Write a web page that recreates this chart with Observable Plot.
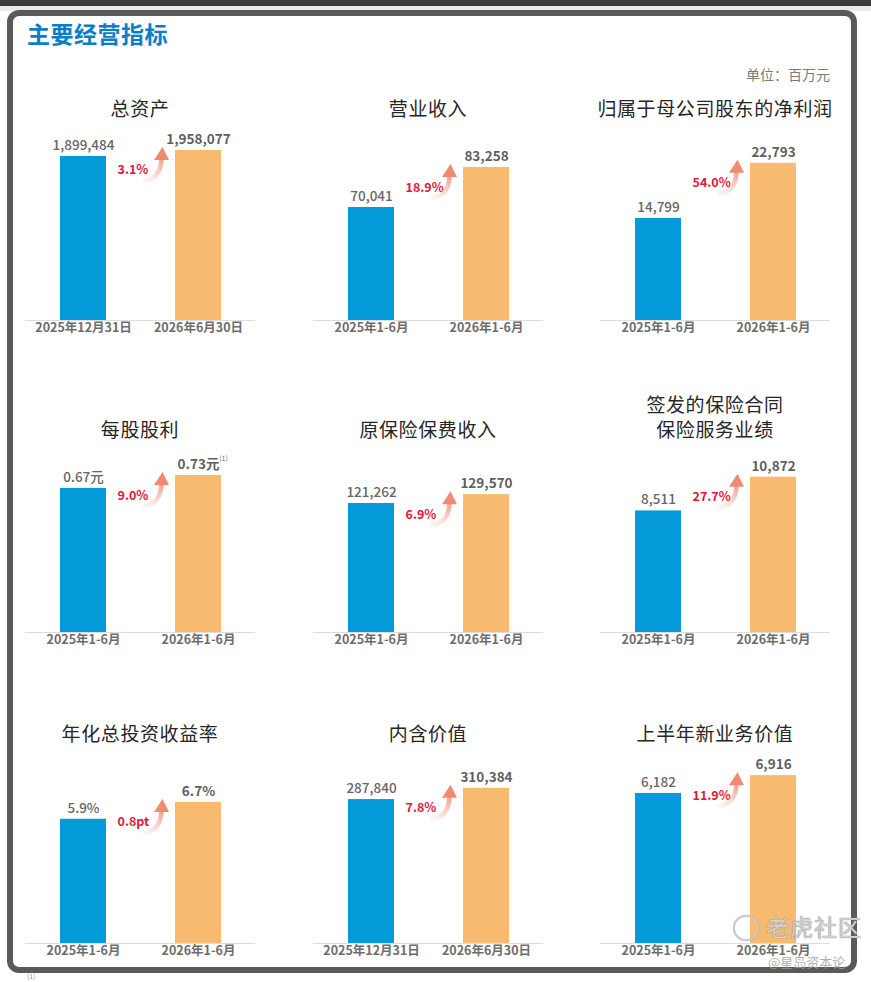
<!DOCTYPE html>
<html>
<head>
<meta charset="utf-8">
<script src="https://cdn.jsdelivr.net/npm/d3@7"></script>
<script src="https://cdn.jsdelivr.net/npm/@observablehq/plot@0.6"></script>
<style>
  html, body { margin: 0; padding: 0; background: #ffffff; }
  body { width: 871px; height: 982px; position: relative; overflow: hidden;
         font-family: "Noto Sans CJK SC", "Noto Sans", sans-serif; }
  .strip { position: absolute; left: 0; top: 0; width: 871px; height: 6px; background: #3a3a3a; }
  .strip2 { position: absolute; left: 0; top: 6px; width: 871px; height: 5px; background: #e9e9e9; }
  .frame { position: absolute; left: 7px; top: 10px; width: 850px; height: 963px; box-sizing: border-box;
           border: 6px solid #5a5a5a; border-radius: 12px; background: #fff; }
  .main-title { position: absolute; left: 27px; top: 16px; font-size: 23px; font-weight: 700; color: #0a7ec6; letter-spacing: 0.5px; }
  .unit { position: absolute; right: 41px; top: 64px; font-size: 14px; color: #7a7a7a; }
  .ptitle { position: absolute; width: 320px; text-align: center; font-size: 19px; line-height: 25px; color: #262626; letter-spacing: 0.6px; }
  .panel { position: absolute; }
  .wm1 { position: absolute; left: 766px; top: 913px; font-size: 23px; line-height: 26px; color: #d2d2d2; letter-spacing: 1px;
         text-shadow: 0 0 1px #888, 0 0 1px #888; }
  .wm2 { position: absolute; left: 768px; top: 954px; font-size: 13px; line-height: 15px; color: rgba(160,160,160,0.85); }
  .wmlogo { position: absolute; left: 733px; top: 915px; width: 22px; height: 22px; border: 2px solid #c8c8c8; border-radius: 50%;
            box-shadow: 0 0 1px #888; }
  .foot { position: absolute; left: 27px; top: 972px; font-size: 7px; line-height: 8px; color: #999; }
</style>
</head>
<body>
<div class="strip"></div>
<div class="strip2"></div>
<div class="frame"></div>
<div class="main-title">主要经营指标</div>
<div class="unit">单位：百万元</div>
<div id="charts"></div>
<div class="wmlogo"></div>
<div class="wm1">老虎社区</div>
<div class="wm2">@星岛资本论</div>
<div class="foot">(1)</div>
<script>
// ---------------- data ----------------
const titles = ["总资产", "营业收入", "归属于母公司股东的净利润",
                "每股股利", "原保险保费收入", "签发的保险合同\n保险服务业绩",
                "年化总投资收益率", "内含价值", "上半年新业务价值"];
const periodsDate = ["2025年12月31日", "2026年6月30日"];
const periodsHalf = ["2025年1-6月", "2026年1-6月"];
const periods = [periodsDate, periodsHalf, periodsHalf,
                 periodsHalf, periodsHalf, periodsHalf,
                 periodsHalf, periodsDate, periodsHalf];
const priorValues   = [1899484, 70041, 14799, 0.67, 121262, 8511, 5.9, 287840, 6182];
const currentValues = [1958077, 83258, 22793, 0.73, 129570, 10872, 6.7, 310384, 6916];
const priorLabels   = ["1,899,484", "70,041", "14,799", "0.67元", "121,262", "8,511", "5.9%", "287,840", "6,182"];
const currentLabels = ["1,958,077", "83,258", "22,793", "0.73元", "129,570", "10,872", "6.7%", "310,384", "6,916"];
const footnotes     = ["", "", "", "(1)", "", "", "", "", ""];
const changes       = ["3.1%", "18.9%", "54.0%", "9.0%", "6.9%", "27.7%", "0.8pt", "7.8%", "11.9%"];

// ---------------- styling / layout ----------------
const yDomains = [[300000, 2250000], [32700, 98800], [0, 29000],
                  [0, 0.93], [0, 188000], [0, 14000],
                  [0, 9.5], [0, 400000], [0, 8240]];
const BLUE = "#059ad9", ORANGE = "#f7ba6f", RED = "#e2173a";
const colLeft = [25, 313, 600];
const rowBase = [320, 632, 943];
const rowTitle = [107, 428, 732];
const PW = 230, MT = 30, MB = 24, IH = 200;

const root = document.getElementById("charts");

function arrowMark(i) {
  return (index, scales) => {
    const sx = scales.x, sy = scales.y;
    const bw = sx.bandwidth ? sx.bandwidth() : 46;
    const blueR = sx(periods[i][0]) + bw;
    const orangeL = sx(periods[i][1]);
    const gx = (blueR + orangeL) / 2;
    const oTop = sy(currentValues[i]);
    const tx = gx + 2, ty = oTop + 31;
    const bx = gx + 21, by = oTop + 9;
    const g = d3.create("svg:g");
    const id = "ag" + i;
    const grad = g.append("defs").append("linearGradient")
      .attr("id", id).attr("gradientUnits", "userSpaceOnUse")
      .attr("x1", tx).attr("y1", ty).attr("x2", bx).attr("y2", by);
    grad.append("stop").attr("offset", 0).attr("stop-color", "#fbe3dc").attr("stop-opacity", 0.3);
    grad.append("stop").attr("offset", 1).attr("stop-color", "#f3a08c");
    g.append("path")
      .attr("d", `M${tx},${ty} Q${bx - 1},${ty - 1} ${bx},${by}`)
      .attr("fill", "none").attr("stroke", `url(#${id})`).attr("stroke-width", 4.5);
    g.append("path")
      .attr("d", `M${bx - 7.5},${by + 1} L${bx + 7.5},${by + 1} L${bx + 1},${by - 12} Z`)
      .attr("fill", "#f08a72");
    return g.node();
  };
}

for (let i = 0; i < 9; i++) {
  const col = i % 3, row = Math.floor(i / 3);
  const lo = yDomains[i][0];
  const rows = [
    {period: periods[i][0], value: priorValues[i], label: priorLabels[i], series: "prior"},
    {period: periods[i][1], value: currentValues[i], label: currentLabels[i], series: "current", foot: footnotes[i]}
  ];
  const plot = Plot.plot({
    width: PW, height: MT + IH + MB,
    marginLeft: 0, marginRight: 0, marginTop: MT, marginBottom: MB,
    x: {domain: periods[i], paddingInner: 0.603, paddingOuter: 0.293, axis: null},
    y: {domain: yDomains[i], axis: null},
    color: {domain: ["prior", "current"], range: [BLUE, ORANGE]},
    style: {fontFamily: '"Noto Sans CJK SC", "Noto Sans", sans-serif', background: "transparent", overflow: "visible"},
    marks: [
      Plot.barY(rows, {x: "period", y1: lo, y2: "value", fill: "series"}),
      Plot.ruleY([lo], {stroke: "#dddddd", strokeWidth: 1}),
      Plot.text(rows.slice(0, 1), {x: "period", y: "value", text: "label", dy: -11, fontSize: 13.5, fontWeight: 500, fill: "#666"}),
      Plot.text(rows.slice(1), {x: "period", y: "value", text: "label", dy: -11, fontSize: 13.5, fontWeight: 700, fill: "#5f5f5f"}),
      Plot.text(rows.slice(1), {x: "period", y: "value", text: "foot", dx: 25, dy: -17, fontSize: 7, fill: "#777"}),
      Plot.text(rows, {x: "period", y: lo, text: "period", lineAnchor: "top", dy: 3, fontSize: 12.5, fontWeight: 600, fill: "#6d6d6d"}),
      Plot.text([{period: periods[i][1], value: currentValues[i], t: changes[i]}],
        {x: "period", y: "value", text: "t", dx: -81, dy: 20, textAnchor: "start", fontSize: 12.5, fontWeight: 700, fill: RED}),
      arrowMark(i)
    ]
  });
  const wrap = document.createElement("div");
  wrap.className = "panel";
  wrap.style.left = colLeft[col] + "px";
  wrap.style.top = (rowBase[row] - MT - IH) + "px";
  wrap.appendChild(plot);
  root.appendChild(wrap);

  const lines = titles[i].split("\n");
  const t = document.createElement("div");
  t.className = "ptitle";
  t.style.left = (colLeft[col] + PW / 2 - 160) + "px";
  t.style.top = (rowTitle[row] - 12.5 - (lines.length - 1) * 25) + "px";
  t.innerHTML = lines.join("<br>");
  root.appendChild(t);
}
</script>
</body>
</html>
